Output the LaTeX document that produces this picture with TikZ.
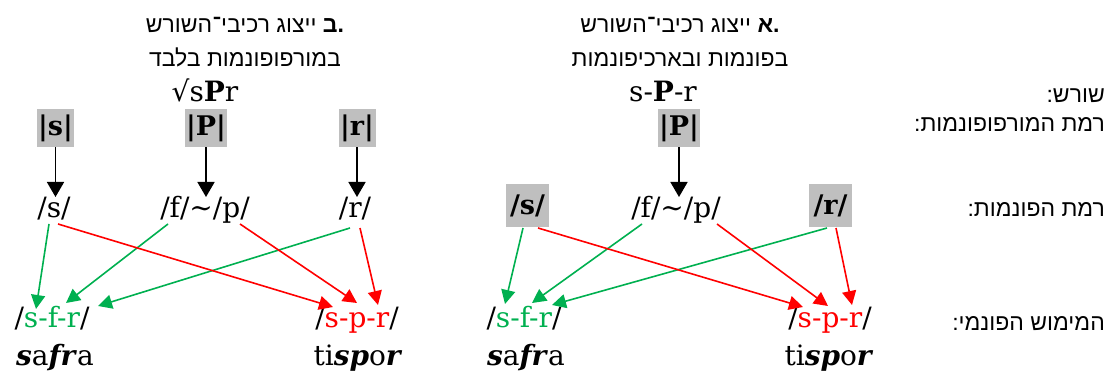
\documentclass[tikz,border=0pt]{standalone}
\usepackage{fontspec}
\setmainfont{DejaVu Serif}
\newfontfamily\heb[Script=Hebrew]{Liberation Sans}
\usetikzlibrary{arrows.meta}
\TeXXeTstate=1
\definecolor{gr}{HTML}{00B050}
\definecolor{rd}{HTML}{FF0000}
\definecolor{gbox}{HTML}{BFBFBF}
\tikzset{
 lat/.style={font=\fontsize{28}{31}\selectfont, inner sep=0pt, anchor=base},
 hb/.style={font=\heb\fontsize{23}{26}\selectfont, inner sep=0pt, anchor=base},
 hbr/.style={hb, anchor=base east},
 boxed/.style={fill=gbox, inner sep=0pt, font=\fontsize{27}{30}\selectfont},
 blk/.style={line width=1.6pt, -{Triangle[length=15pt,width=17pt]}},
 garr/.style={draw=gr, line width=1.6pt, -{Triangle[length=14pt,width=14pt]}, fill=gr},
 rarr/.style={draw=rd, line width=1.6pt, -{Triangle[length=14pt,width=14pt]}, fill=rd},
}
\begin{document}
\begin{tikzpicture}[x=1pt,y=-1pt]
\useasboundingbox (0,0) rectangle (1108,374);
% titles
\node[hb] (tb1) at (245,33) {\beginR\textbf{\hbox{.}\hbox{ב}} ייצוג רכיבי־השורש\endR};
\node[hb] (tb2) at (245,67) {\beginR במורפופונמות בלבד\endR};
\node[lat] (rb) at (205,102) {√s\textbf{P}r};
\node[hb] (ta1) at (680,33) {\beginR\textbf{\hbox{.}\hbox{א}} ייצוג רכיבי־השורש\endR};
\node[hb] (ta2) at (680,67) {\beginR בפונמות ובארכיפונמות\endR};
\node[lat] (ra) at (663,102) {s-\textbf{P}-r};
% row labels
\node[hbr] (l1) at (1105,103) {\beginR שורש:\endR};
\node[hbr] (l2) at (1105,132) {\beginR רמת המורפופונמות:\endR};
\node[hbr] (l3) at (1105,217) {\beginR רמת הפונמות:\endR};
\node[hbr] (l4) at (1105,330) {\beginR המימוש הפונמי:\endR};
% left panel
\node[boxed, minimum width=37pt, minimum height=38pt] (bs) at (55.5,128) {\textbf{|s|}};
\node[boxed, minimum width=42pt, minimum height=38pt] (bP) at (206,128) {\textbf{|P|}};
\node[boxed, minimum width=37pt, minimum height=38pt] (br) at (357,128) {\textbf{|r|}};
\node[lat] (ps) at (54,218) {/s/};
\node[lat] (pfp) at (205,218) {/f/∼/p/};
\node[lat] (pr) at (355,218) {/r/};
\node[lat] (sfr) at (52,327) {/\textcolor{gr}{s-f-r}/};
\node[lat] (spr) at (357,327) {/\textcolor{rd}{s-p-r}/};
\node[lat] (w1) at (55,365) {\textbf{\textit{s}}a\textbf{\textit{fr}}a};
\node[lat] (w2) at (358,365) {ti\textbf{\textit{sp}}o\textbf{\textit{r}}};
\coordinate (tbs) at (55.5,197);
\coordinate (tbP) at (206,197);
\coordinate (tbr) at (357,197);
\draw[blk] (bs.south) -- (tbs);
\draw[blk] (bP.south) -- (tbP);
\draw[blk] (br.south) -- (tbr);
\coordinate (Lg1a) at (49,224);  \coordinate (Lg1b) at (36,309);
\coordinate (Lg2a) at (168,224); \coordinate (Lg2b) at (66,303);
\coordinate (Lg3a) at (350,228); \coordinate (Lg3b) at (98,306);
\coordinate (Lr1a) at (58,224);  \coordinate (Lr1b) at (333,307);
\coordinate (Lr2a) at (240,224); \coordinate (Lr2b) at (357,303);
\coordinate (Lr3a) at (360,228); \coordinate (Lr3b) at (378,305);
\draw[garr] (Lg1a) -- (Lg1b);
\draw[garr] (Lg2a) -- (Lg2b);
\draw[garr] (Lg3a) -- (Lg3b);
\draw[rarr] (Lr1a) -- (Lr1b);
\draw[rarr] (Lr2a) -- (Lr2b);
\draw[rarr] (Lr3a) -- (Lr3b);
% right panel
\node[boxed, minimum width=42pt, minimum height=38pt] (aP) at (679,128) {\textbf{|P|}};
\node[boxed, minimum width=43pt, minimum height=43pt] (as) at (527.5,205.5) {\textbf{/s/}};
\node[lat] (afp) at (676,218) {/f/∼/p/};
\node[boxed, minimum width=43pt, minimum height=43pt] (ar) at (830.5,205.5) {\textbf{/r/}};
\node[lat] (asfr) at (524,327) {/\textcolor{gr}{s-f-r}/};
\node[lat] (aspr) at (830,327) {/\textcolor{rd}{s-p-r}/};
\node[lat] (aw1) at (526,365) {\textbf{\textit{s}}a\textbf{\textit{fr}}a};
\node[lat] (aw2) at (829,365) {ti\textbf{\textit{sp}}o\textbf{\textit{r}}};
\coordinate (taP) at (679,197);
\draw[blk] (aP.south) -- (taP);
\coordinate (Rg1a) at (523,228); \coordinate (Rg1b) at (505,304);
\coordinate (Rg2a) at (642,224); \coordinate (Rg2b) at (532,303);
\coordinate (Rg3a) at (827,228); \coordinate (Rg3b) at (552,305);
\coordinate (Rr1a) at (538,228); \coordinate (Rr1b) at (803,307);
\coordinate (Rr2a) at (717,224); \coordinate (Rr2b) at (828,306);
\coordinate (Rr3a) at (836,228); \coordinate (Rr3b) at (852,305);
\draw[garr] (Rg1a) -- (Rg1b);
\draw[garr] (Rg2a) -- (Rg2b);
\draw[garr] (Rg3a) -- (Rg3b);
\draw[rarr] (Rr1a) -- (Rr1b);
\draw[rarr] (Rr2a) -- (Rr2b);
\draw[rarr] (Rr3a) -- (Rr3b);
\end{tikzpicture}
\end{document}
